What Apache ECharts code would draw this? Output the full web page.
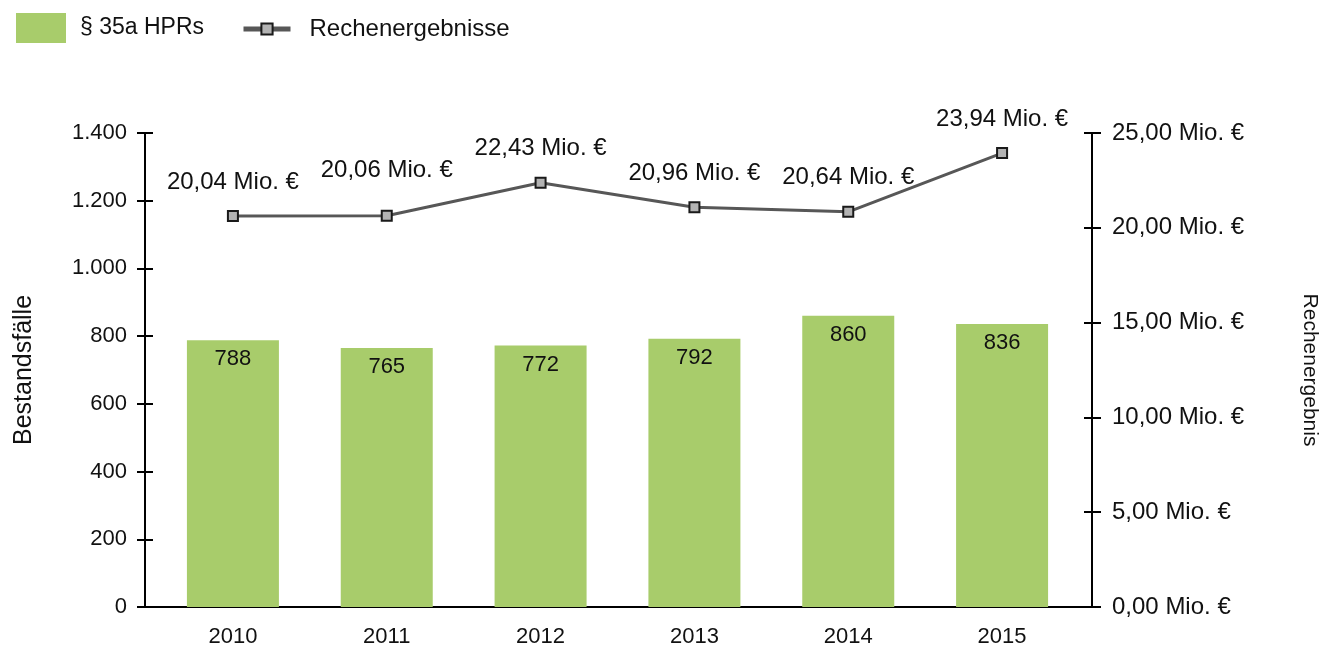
<!DOCTYPE html>
<html>
<head>
<meta charset="utf-8">
<script src="https://cdn.jsdelivr.net/npm/echarts@6/dist/echarts.min.js"></script>
<style>
  html, body { margin: 0; padding: 0; background: #fff; }
  #chart { width: 1325px; height: 646px; }
</style>
</head>
<body>
<div id="chart"></div>
<script>
// Daten
const years = ['2010', '2011', '2012', '2013', '2014', '2015'];
const hprCases = [788, 765, 772, 792, 860, 836];
// Lage der Punkte (Mio. €)
const resultValues = [20.62, 20.64, 22.38, 21.08, 20.84, 23.94];
const resultLabels = ['20,04 Mio. €', '20,06 Mio. €', '22,43 Mio. €', '20,96 Mio. €', '20,64 Mio. €', '23,94 Mio. €'];
const leftTicks = [0, 200, 400, 600, 800, 1000, 1200, 1400];
const rightTicks = [0, 5, 10, 15, 20, 25];

const FONT = 'Liberation Sans';
const TXT = '#111';
const fmtLeft = v => v >= 1000 ? Math.floor(v / 1000) + '.' + String(v % 1000).padStart(3, '0') : String(v);
const fmtRight = v => v.toFixed(2).replace('.', ',') + ' Mio. €';

const chart = echarts.init(document.getElementById('chart'));

const hiddenY = {
  axisLine: { show: false }, axisTick: { show: false },
  axisLabel: { show: false }, splitLine: { show: false }
};

const option = {
  backgroundColor: '#fff',
  textStyle: { fontFamily: FONT, color: TXT },
  legend: [
    {
      data: ['§ 35a HPRs'],
      left: 11, top: 8,
      icon: 'rect',
      itemWidth: 50, itemHeight: 30,
      textStyle: { fontSize: 23, color: TXT, fontFamily: FONT, padding: [6, 0, 0, 9] }
    },
    {
      data: ['Rechenergebnisse'],
      left: 236, top: 12,
      itemWidth: 47, itemHeight: 14,
      lineStyle: { color: '#575757', width: 5 },
      textStyle: { fontSize: 24, color: TXT, fontFamily: FONT, padding: [0, 0, 0, 14] }
    }
  ],
  grid: [
    { left: 145, right: 233, top: 133, bottom: 39, outerBoundsMode: 'none' },
    { left: 156, right: 246, top: 133, bottom: 39, outerBoundsMode: 'none' }
  ],
  xAxis: [
    {
      gridIndex: 0, type: 'value', min: 0, max: 1,
      axisLine: { show: true, lineStyle: { color: '#000', width: 2 } },
      axisTick: { show: false }, axisLabel: { show: false }, splitLine: { show: false }
    },
    {
      gridIndex: 1, type: 'category', data: years,
      axisLine: { show: false }, axisTick: { show: false },
      axisLabel: { fontSize: 22, color: TXT, fontFamily: FONT, margin: 19 }
    }
  ],
  yAxis: [
    {
      gridIndex: 0, type: 'value', position: 'left',
      min: leftTicks[0], max: leftTicks[leftTicks.length - 1], interval: 200,
      name: 'Bestandsfälle', nameLocation: 'middle', nameGap: 108, nameRotate: 90,
      nameTextStyle: { fontSize: 25, color: TXT, fontFamily: FONT },
      axisLine: { show: true, lineStyle: { color: '#000', width: 2 } },
      axisTick: { show: true, length: 8, lineStyle: { color: '#000', width: 2 } },
      axisLabel: { fontSize: 22, color: TXT, fontFamily: FONT, margin: 18, formatter: fmtLeft },
      splitLine: { show: false }
    },
    {
      gridIndex: 0, type: 'value', position: 'right',
      min: rightTicks[0], max: rightTicks[rightTicks.length - 1], interval: 5,
      name: 'Rechenergebnis', nameLocation: 'middle', nameGap: 207, nameRotate: -90,
      nameTextStyle: { fontSize: 21, color: TXT, fontFamily: FONT },
      axisLine: { show: true, lineStyle: { color: '#000', width: 2 } },
      axisTick: { show: true, length: 9, lineStyle: { color: '#000', width: 2 } },
      axisLabel: { fontSize: 24, color: TXT, fontFamily: FONT, margin: 20, formatter: fmtRight },
      splitLine: { show: false }
    },
    // Striche nach innen, damit sie die Achse kreuzen
    {
      gridIndex: 0, type: 'value', position: 'left',
      min: 0, max: 1400, interval: 200,
      axisLine: { show: false },
      axisTick: { show: true, inside: true, length: 8, lineStyle: { color: '#000', width: 2 } },
      axisLabel: { show: false }, splitLine: { show: false }
    },
    {
      gridIndex: 0, type: 'value', position: 'right',
      min: 0, max: 25, interval: 5,
      axisLine: { show: false },
      axisTick: { show: true, inside: true, length: 8, lineStyle: { color: '#000', width: 2 } },
      axisLabel: { show: false }, splitLine: { show: false }
    },
    Object.assign({ gridIndex: 1, type: 'value', position: 'left', min: 0, max: 1400 }, hiddenY),
    Object.assign({ gridIndex: 1, type: 'value', position: 'right', min: 0, max: 25 }, hiddenY)
  ],
  series: [
    {
      name: '§ 35a HPRs',
      type: 'bar',
      xAxisIndex: 1, yAxisIndex: 4,
      data: hprCases,
      barWidth: 92,
      itemStyle: { color: '#a8cc6b' },
      label: {
        show: true, position: 'insideTop', distance: 8,
        fontSize: 22, color: TXT, fontFamily: FONT
      },
      z: 2
    },
    {
      name: 'Rechenergebnisse',
      type: 'line',
      xAxisIndex: 1, yAxisIndex: 5,
      data: resultValues.map((v, i) => ({
        value: v,
        label: { distance: i === 1 ? 27 : 16 }
      })),
      symbol: 'rect', symbolSize: 10,
      lineStyle: { color: '#575757', width: 3 },
      itemStyle: { color: '#b3b3b3', borderColor: '#1a1a1a', borderWidth: 2 },
      label: {
        show: true, position: 'top',
        fontSize: 24, color: TXT, fontFamily: FONT,
        formatter: p => resultLabels[p.dataIndex]
      },
      z: 3
    }
  ]
};

chart.setOption(option);
</script>
</body>
</html>
